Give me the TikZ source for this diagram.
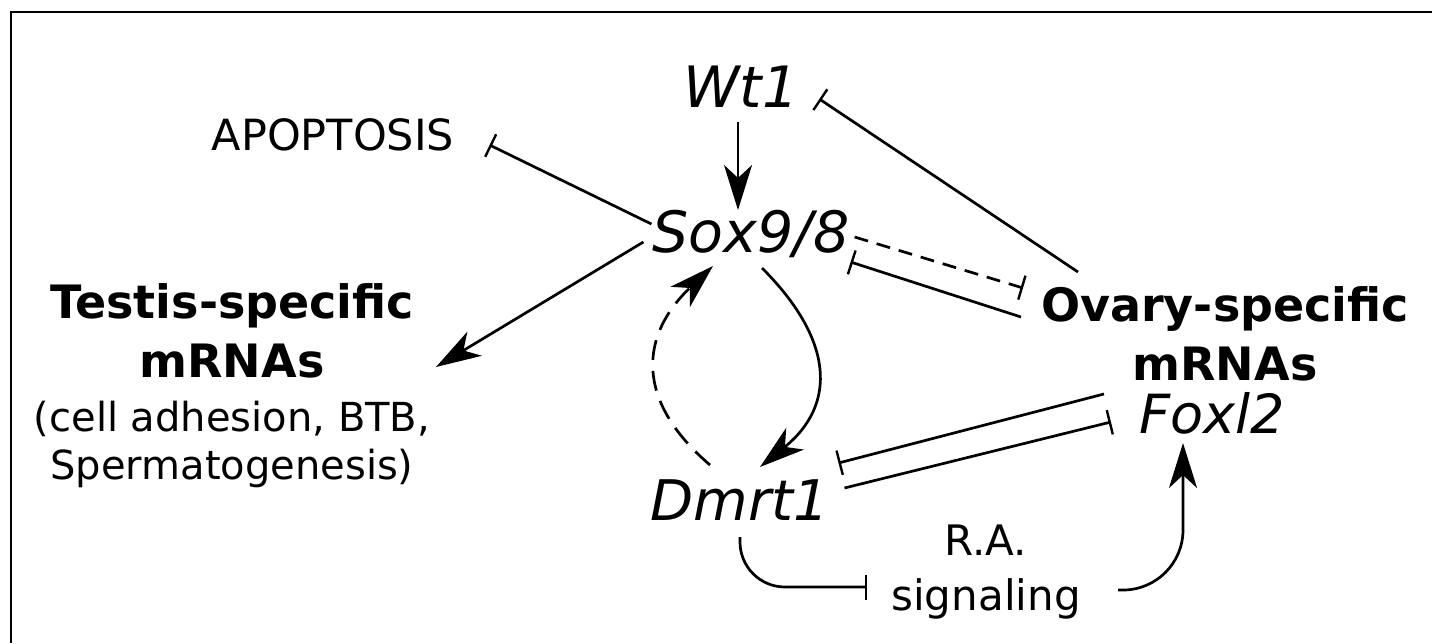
\documentclass[tikz,border=0pt]{standalone}
\usepackage{fontspec}
\setmainfont{DejaVu Sans}
\usetikzlibrary{arrows.meta}

\begin{document}
\begin{tikzpicture}[x=1pt,y=-1pt,line width=2.7pt,
  gene/.style={font=\fontsize{57}{68}\selectfont\itshape,inner sep=0pt,anchor=base},
  mrna/.style={font=\fontsize{46}{59}\selectfont\bfseries,inner sep=0pt,
    anchor=north,align=center},
  note/.style={inner sep=0pt,anchor=north,align=center},
  act/.style={-{Stealth[length=45pt,width=28pt,inset=13pt]}},
  inh/.style={-{Bar[width=25pt,line width=2.4pt]}}]

  \useasboundingbox (0,0) rectangle (1432,643);
  \draw[line width=2pt] (10.5,643) -- (10.5,11.5) -- (1432,11.5);

  \node[gene] (wt) at (741,107) {Wt1};
  \node[gene] (sox) at (751,252) {Sox9/8};
  \node[gene,font=\fontsize{56}{68}\selectfont\itshape] (dm) at (740,520) {Dmrt1};
  \node[gene,font=\fontsize{54}{64}\selectfont\itshape] (fx) at (1212,433) {Foxl2};
  \node[note,anchor=base,font=\fontsize{43}{52}\selectfont] (apo) at (333,150) {APOPTOSIS};
  \node[mrna] (tes) at (232,282) {Testis-specific\\mRNAs};
  \node[note,font=\fontsize{40}{48}\selectfont] (tesnote) at (232,400)
    {(cell adhesion, BTB,\\Spermatogenesis)};
  \node[mrna] (ov) at (1225,285) {Ovary-specific\\mRNAs};
  \node[note,font=\fontsize{42}{55}\selectfont] (ra) at (986,524) {R.A.\\signaling};

  \path
  ([shift={(-3,15)}]wt.base) edge[act] ([shift={(-13,-42)}]sox.base)
  ([shift={(0,-28)}]sox.base west) edge[inh] ([shift={(34,-5)}]apo.base east)
  ([shift={(-8,-10)}]sox.base west) edge[act] ([shift={(204,85)}]tes.north)
  ([shift={(-147,-13)}]ov.north) edge[inh] ([shift={(19.5,-8)}]wt.base east)
  ([shift={(4,-15)}]sox.base east) edge[inh,dash pattern=on 14pt off 9pt]
    ([shift={(-202,3)}]ov.north)
  ([shift={(-204,32)}]ov.north) edge[inh] ([shift={(0,10)}]sox.base east)
  ([shift={(-34,-39)}]fx.base west) edge[inh] ([shift={(8,-57)}]dm.base east)
  ([shift={(14,-32)}]dm.base east) edge[inh] ([shift={(-27,-11)}]fx.base west)
  ;

  % loop between Sox9/8 and Dmrt1
  \draw[act] ([shift={(11,16)}]sox.base) .. controls +(71,71) and +(78,-63)
    .. ([shift={(20,-53)}]dm.base);
  \draw[act,dash pattern=on 20pt off 11pt] ([shift={(-30,-55)}]dm.base)
    .. controls +(-76,-65) and +(-73,69) .. ([shift={(-38,14)}]sox.base);

  % R.A. signaling
  \draw[inh,rounded corners=45pt] ([shift={(0,17)}]dm.base) |- ([shift={(-119,63)}]ra.north);
  \draw[act,rounded corners=60pt] ([shift={(132,66)}]ra.north) -| ([shift={(-29,10)}]fx.base);
\end{tikzpicture}
\end{document}
